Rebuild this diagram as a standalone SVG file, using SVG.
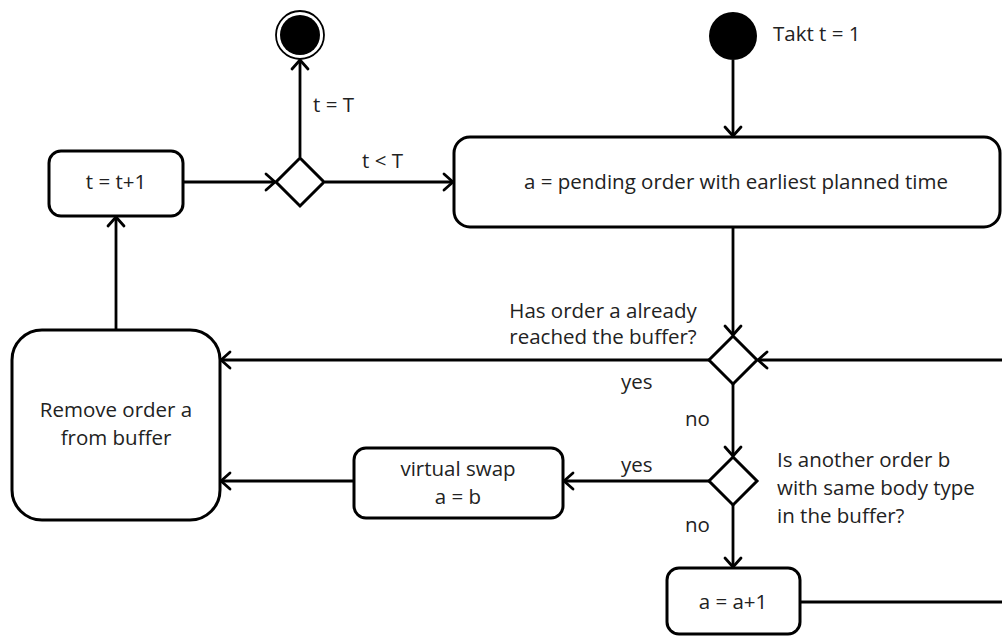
<svg xmlns="http://www.w3.org/2000/svg" width="1002" height="637" viewBox="0 0 1002 637">
  <style>
    .box { fill: #fff; stroke: #000; stroke-width: 3; }
    .dec { fill: #fff; stroke: #000; stroke-width: 3; stroke-linejoin: miter; }
    .edge { fill: none; stroke: #000; stroke-width: 2.8; }
    .txt { font-family: "Open Sans", "Liberation Sans", sans-serif; font-size: 20.5px; fill: #222; }
    .mid { text-anchor: middle; }
  </style>
  <defs>
    <marker id="arrow" markerUnits="userSpaceOnUse" markerWidth="20" markerHeight="20" refX="0" refY="0" orient="auto" overflow="visible">
      <path d="M -9 -8 L 0 0 L -9 8" fill="none" stroke="#000" stroke-width="2.8" stroke-linejoin="round" stroke-linecap="round"/>
    </marker>
  </defs>

  <rect width="1002" height="637" fill="#fff"/>

  <!-- connectors -->
  <g id="connectors">
    <line class="edge" x1="733" y1="60" x2="733" y2="136" marker-end="url(#arrow)"/>
    <line class="edge" x1="733" y1="227" x2="733" y2="335" marker-end="url(#arrow)"/>
    <line class="edge" x1="709" y1="360" x2="221" y2="360" marker-end="url(#arrow)"/>
    <line class="edge" x1="1002" y1="360" x2="758" y2="360" marker-end="url(#arrow)"/>
    <line class="edge" x1="733" y1="384" x2="733" y2="456" marker-end="url(#arrow)"/>
    <line class="edge" x1="709" y1="481" x2="564" y2="481" marker-end="url(#arrow)"/>
    <line class="edge" x1="354" y1="481" x2="221" y2="481" marker-end="url(#arrow)"/>
    <line class="edge" x1="733" y1="505" x2="733" y2="567" marker-end="url(#arrow)"/>
    <line class="edge" x1="800" y1="602" x2="1002" y2="602"/>
    <line class="edge" x1="116" y1="330" x2="116" y2="217" marker-end="url(#arrow)"/>
    <line class="edge" x1="183" y1="182" x2="275" y2="182" marker-end="url(#arrow)"/>
    <line class="edge" x1="300" y1="157" x2="300" y2="60" marker-end="url(#arrow)"/>
    <line class="edge" x1="325" y1="182" x2="453" y2="182" marker-end="url(#arrow)"/>
    <text class="txt" x="313" y="112">t = T</text>
    <text class="txt" x="362" y="168">t &lt; T</text>
    <text class="txt" x="621" y="389">yes</text>
    <text class="txt" x="685" y="426">no</text>
    <text class="txt" x="621" y="472">yes</text>
    <text class="txt" x="685" y="532">no</text>
  </g>

  <!-- start -->
  <g id="start">
    <circle cx="733" cy="36" r="24" fill="#000"/>
    <text class="txt" x="773" y="41">Takt t = 1</text>
  </g>

  <!-- end -->
  <g id="end">
    <circle cx="300" cy="35" r="24" fill="#fff" stroke="#000" stroke-width="1.8"/>
    <circle cx="300" cy="35" r="20" fill="#000"/>
  </g>

  <g id="decide-t">
    <polygon class="dec" points="300,158 324,182 300,206 276,182"/>
  </g>

  <g id="pick-order">
    <rect class="box" x="454" y="137" width="546" height="90" rx="16"/>
    <text class="txt mid" x="736" y="189">a = pending order with earliest planned time</text>
  </g>

  <g id="increment-t">
    <rect class="box" x="49" y="151" width="134" height="65" rx="12"/>
    <text class="txt mid" x="116" y="189">t = t+1</text>
  </g>

  <g id="in-buffer">
    <polygon class="dec" points="733,336 757,360 733,384 709,360"/>
    <text class="txt mid" x="603" y="318">Has order a already</text>
    <text class="txt mid" x="603" y="344">reached the buffer?</text>
  </g>

  <g id="remove-order">
    <rect class="box" x="12" y="330" width="208" height="190" rx="30"/>
    <text class="txt mid" x="116" y="417">Remove order a</text>
    <text class="txt mid" x="116" y="445">from buffer</text>
  </g>

  <g id="same-type">
    <polygon class="dec" points="733,457 757,481 733,505 709,481"/>
    <text class="txt" x="777" y="467">Is another order b</text>
    <text class="txt" x="777" y="495">with same body type</text>
    <text class="txt" x="777" y="523">in the buffer?</text>
  </g>

  <g id="virtual-swap">
    <rect class="box" x="354" y="448" width="209" height="70" rx="12"/>
    <text class="txt mid" x="458" y="476">virtual swap</text>
    <text class="txt mid" x="458" y="504">a = b</text>
  </g>

  <g id="next-order">
    <rect class="box" x="667" y="568" width="133" height="66" rx="12"/>
    <text class="txt mid" x="733" y="609">a = a+1</text>
  </g>
</svg>
